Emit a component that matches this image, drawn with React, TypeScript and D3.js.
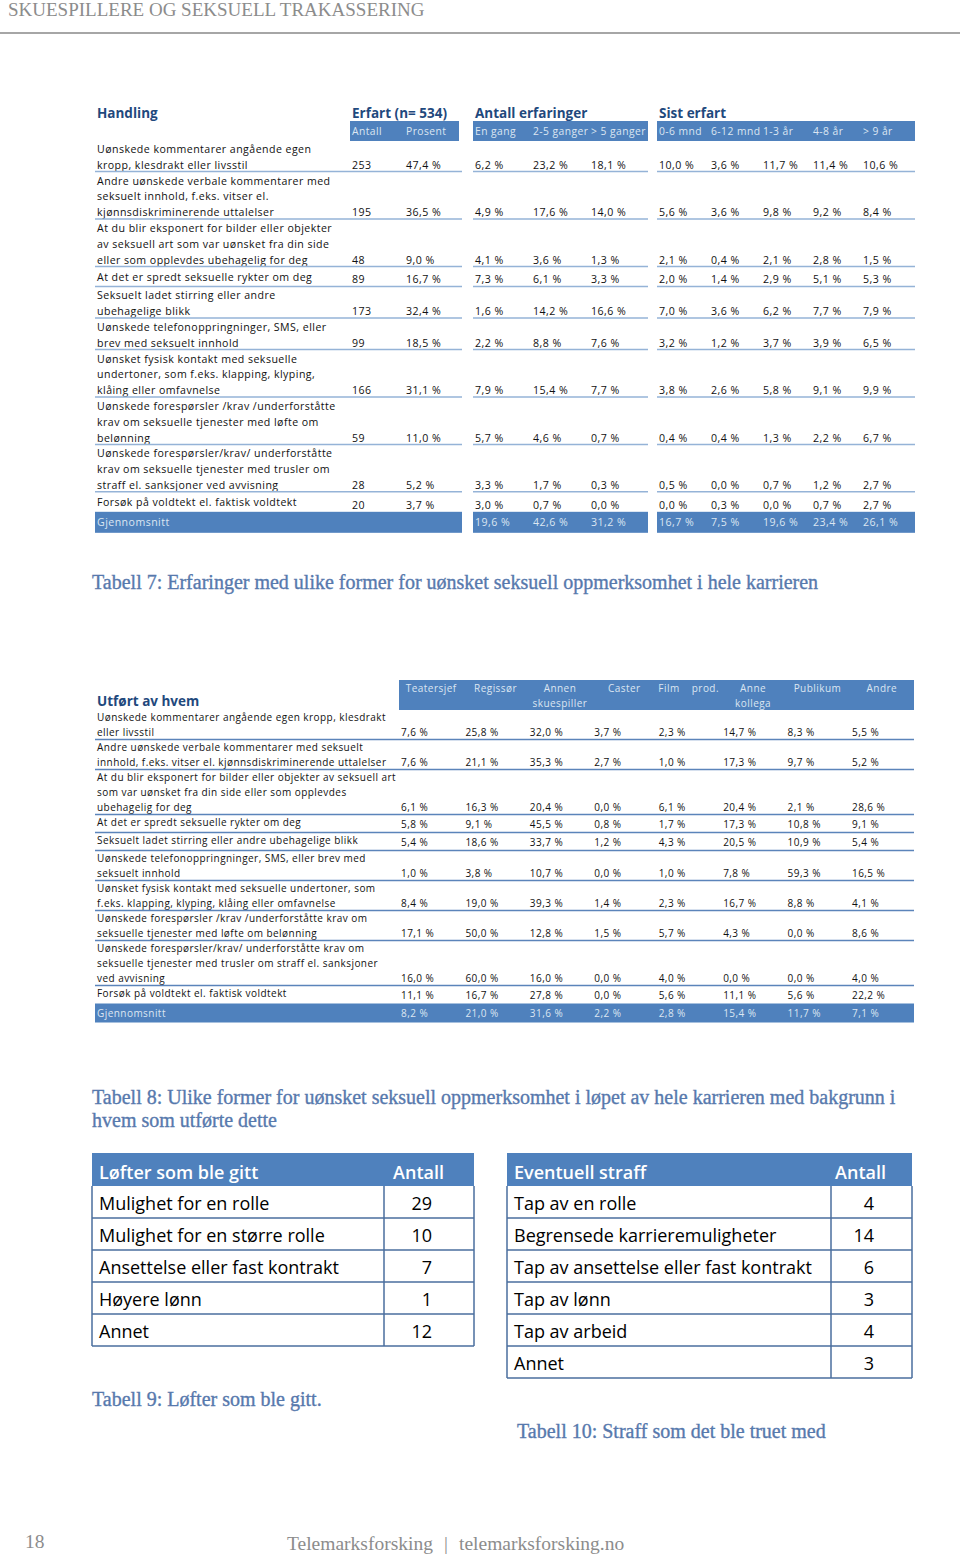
import React from "react";
import * as d3 from "d3";

// ---------- DATA ----------
const pageTitle = "SKUESPILLERE OG SEKSUELL TRAKASSERING";

const t7Rows: string[][] = [
  ["Uønskede kommentarer angående egen", "kropp, klesdrakt eller livsstil"],
  ["Andre uønskede verbale kommentarer med", "seksuelt innhold, f.eks. vitser el.", "kjønnsdiskriminerende uttalelser"],
  ["At du blir eksponert for bilder eller objekter", "av seksuell art som var uønsket fra din side", "eller som opplevdes ubehagelig for deg"],
  ["At det er spredt seksuelle rykter om deg"],
  ["Seksuelt ladet stirring eller andre", "ubehagelige blikk"],
  ["Uønskede telefonoppringninger, SMS, eller", "brev med seksuelt innhold"],
  ["Uønsket fysisk kontakt med seksuelle", "undertoner, som f.eks. klapping, klyping,", "klåing eller omfavnelse"],
  ["Uønskede forespørsler /krav /underforståtte", "krav om seksuelle tjenester med løfte om", "belønning"],
  ["Uønskede forespørsler/krav/ underforståtte", "krav om seksuelle tjenester med trusler om", "straff el. sanksjoner ved avvisning"],
  ["Forsøk på voldtekt el. faktisk voldtekt"],
];
const t7GroupTitles = ["Handling", "Erfart (n= 534)", "Antall erfaringer", "Sist erfart"];
const t7SubHeaders = ["Antall", "Prosent", "En gang", "2-5 ganger", "> 5 ganger", "0-6 mnd", "6-12 mnd", "1-3 år", "4-8 år", "> 9 år"];
const t7Antall = [253, 195, 48, 89, 173, 99, 166, 59, 28, 20];
const t7Prosent = [47.4, 36.5, 9.0, 16.7, 32.4, 18.5, 31.1, 11.0, 5.2, 3.7];
const t7EnGang = [6.2, 4.9, 4.1, 7.3, 1.6, 2.2, 7.9, 5.7, 3.3, 3.0];
const t7Ganger2til5 = [23.2, 17.6, 3.6, 6.1, 14.2, 8.8, 15.4, 4.6, 1.7, 0.7];
const t7Over5Ganger = [18.1, 14.0, 1.3, 3.3, 16.6, 7.6, 7.7, 0.7, 0.3, 0.0];
const t7Mnd0til6 = [10.0, 5.6, 2.1, 2.0, 7.0, 3.2, 3.8, 0.4, 0.5, 0.0];
const t7Mnd6til12 = [3.6, 3.6, 0.4, 1.4, 3.6, 1.2, 2.6, 0.4, 0.0, 0.3];
const t7Aar1til3 = [11.7, 9.8, 2.1, 2.9, 6.2, 3.7, 5.8, 1.3, 0.7, 0.0];
const t7Aar4til8 = [11.4, 9.2, 2.8, 5.1, 7.7, 3.9, 9.1, 2.2, 1.2, 0.7];
const t7Over9Aar = [10.6, 8.4, 1.5, 5.3, 7.9, 6.5, 9.9, 6.7, 2.7, 2.7];
const t7AvgLabel = "Gjennomsnitt";
const t7Avg = [19.6, 42.6, 31.2, 16.7, 7.5, 19.6, 23.4, 26.1];
const caption7 = "Tabell 7: Erfaringer med ulike former for uønsket seksuell oppmerksomhet i hele karrieren";

const t8Title = "Utført av hvem";
const t8Rows: string[][] = [
  ["Uønskede kommentarer angående egen kropp, klesdrakt", "eller livsstil"],
  ["Andre uønskede verbale kommentarer med seksuelt", "innhold, f.eks. vitser el. kjønnsdiskriminerende uttalelser"],
  ["At du blir eksponert for bilder eller objekter av seksuell art", "som var uønsket fra din side eller som opplevdes", "ubehagelig for deg"],
  ["At det er spredt seksuelle rykter om deg"],
  ["Seksuelt ladet stirring eller andre ubehagelige blikk"],
  ["Uønskede telefonoppringninger, SMS, eller brev med", "seksuelt innhold"],
  ["Uønsket fysisk kontakt med seksuelle undertoner, som", "f.eks. klapping, klyping, klåing eller omfavnelse"],
  ["Uønskede forespørsler /krav /underforståtte krav om", "seksuelle tjenester med løfte om belønning"],
  ["Uønskede forespørsler/krav/ underforståtte krav om", "seksuelle tjenester med trusler om straff el. sanksjoner", "ved avvisning"],
  ["Forsøk på voldtekt el. faktisk voldtekt"],
];
const t8Columns: string[][] = [["Teatersjef"], ["Regissør"], ["Annen", "skuespiller"], ["Caster"], ["Film    prod."], ["Anne", "kollega"], ["Publikum"], ["Andre"]];
const t8Teatersjef = [7.6, 7.6, 6.1, 5.8, 5.4, 1.0, 8.4, 17.1, 16.0, 11.1];
const t8Regissor = [25.8, 21.1, 16.3, 9.1, 18.6, 3.8, 19.0, 50.0, 60.0, 16.7];
const t8AnnenSkuespiller = [32.0, 35.3, 20.4, 45.5, 33.7, 10.7, 39.3, 12.8, 16.0, 27.8];
const t8Caster = [3.7, 2.7, 0.0, 0.8, 1.2, 0.0, 1.4, 1.5, 0.0, 0.0];
const t8FilmProd = [2.3, 1.0, 6.1, 1.7, 4.3, 1.0, 2.3, 5.7, 4.0, 5.6];
const t8AnneKollega = [14.7, 17.3, 20.4, 17.3, 20.5, 7.8, 16.7, 4.3, 0.0, 11.1];
const t8Publikum = [8.3, 9.7, 2.1, 10.8, 10.9, 59.3, 8.8, 0.0, 0.0, 5.6];
const t8Andre = [5.5, 5.2, 28.6, 9.1, 5.4, 16.5, 4.1, 8.6, 4.0, 22.2];
const t8Avg = [8.2, 21.0, 31.6, 2.2, 2.8, 15.4, 11.7, 7.1];
const caption8 = [
  "Tabell 8: Ulike former for uønsket seksuell oppmerksomhet i løpet av hele karrieren med bakgrunn i",
  "hvem som utførte dette",
];

const t9Header = ["Løfter som ble gitt", "Antall"];
const t9Labels = ["Mulighet for en rolle", "Mulighet for en større rolle", "Ansettelse eller fast kontrakt", "Høyere lønn", "Annet"];
const t9Values = [29, 10, 7, 1, 12];
const caption9 = "Tabell 9: Løfter som ble gitt.";

const t10Header = ["Eventuell straff", "Antall"];
const t10Labels = ["Tap av en rolle", "Begrensede karrieremuligheter", "Tap av ansettelse eller fast kontrakt", "Tap av lønn", "Tap av arbeid", "Annet"];
const t10Values = [4, 14, 6, 3, 4, 3];
const caption10 = "Tabell 10: Straff som det ble truet med";

const pageNumber = "18";
const footerParts = ["Telemarksforsking", "|", "telemarksforsking.no"];

// ---------- STYLE ----------
const W = 960;
const H = 1555;
const BLUE = "#4F81BD";
const NAVY = "#1F497D";
const CAPTION = "#5779AD";
const HEADTXT = "#DCE6F2";
const SANS = "'Open Sans', 'Liberation Sans', sans-serif";
const SERIF = "'Liberation Serif', 'DejaVu Serif', serif";
const body7 = { fontFamily: SANS, fontSize: 10.6, letterSpacing: 0.45, fill: "#111" };
const body8 = { fontFamily: SANS, fontSize: 10, letterSpacing: 0.45, fill: "#111" };

const nbLocale = d3.formatLocale({ decimal: ",", thousands: " ", grouping: [3], currency: ["", ""] });
const f1 = nbLocale.format(".1f");
const pct = (v: number) => `${f1(v)} %`;

// layout helper: cumulative row bottoms
function rowLayout(rows: string[][], top: number, lineH: number, singleH: number) {
  const heights = rows.map((r) => (r.length === 1 ? singleH : r.length * lineH));
  const bottoms = Array.from(d3.cumsum(heights)).map((c) => top + c);
  return bottoms.map((b, i) => ({ top: b - heights[i], bottom: b, n: rows[i].length }));
}

function Table7() {
  const cols = [t7Antall, t7Prosent, t7EnGang, t7Ganger2til5, t7Over5Ganger, t7Mnd0til6, t7Mnd6til12, t7Aar1til3, t7Aar4til8, t7Over9Aar];
  const colX = d3.scaleOrdinal<number, number>().domain(d3.range(10)).range([352, 406, 475, 533, 591, 659, 711, 763, 813, 863]);
  const segs = [
    [95, 462],
    [473, 648],
    [657, 915],
  ];
  const headBars = [
    [350, 459],
    [473, 648],
    [657, 915],
  ];
  const layout = rowLayout(t7Rows, 140, 15.8, 20);
  const last = layout[layout.length - 1].bottom;
  return (
    <g>
      <text x={97} y={118} fontFamily={SANS} fontWeight={700} fontSize={13.5} fill={NAVY}>{t7GroupTitles[0]}</text>
      {[352, 475, 659].map((x, i) => (
        <text key={i} x={x} y={118} fontFamily={SANS} fontWeight={700} fontSize={13.5} fill={NAVY}>{t7GroupTitles[i + 1]}</text>
      ))}
      {headBars.map(([a, b], i) => (
        <rect key={i} x={a} y={121} width={b - a} height={20} fill={BLUE} />
      ))}
      {t7SubHeaders.map((s, i) => (
        <text key={i} x={colX(i)} y={134.5} {...body7} fontSize={10.3} fill={HEADTXT}>{s}</text>
      ))}
      {layout.map((r, i) => {
        const single = r.n === 1;
        const labelBase = single ? r.bottom - 5.5 : r.bottom - 2.8;
        const valBase = single ? r.bottom - 3 : r.bottom - 2.8;
        return (
          <g key={i}>
            {t7Rows[i].map((line, j) => (
              <text key={j} x={97} y={labelBase - (r.n - 1 - j) * 15.8} {...body7}>{line}</text>
            ))}
            {cols.map((c, k) => (
              <text key={k} x={colX(k)} y={valBase} {...body7}>{k === 0 ? String(c[i]) : pct(c[i])}</text>
            ))}
            {i < layout.length - 1 &&
              segs.map(([a, b], k) => (
                <line key={k} x1={a} x2={b} y1={r.bottom} y2={r.bottom} stroke="#95B3D7" strokeWidth={1.5} />
              ))}
          </g>
        );
      })}
      {segs.map(([a, b], k) => (
        <rect key={k} x={a} y={last} width={b - a} height={21} fill={BLUE} />
      ))}
      <text x={97} y={last + 14} {...body7} fill={HEADTXT}>{t7AvgLabel}</text>
      {t7Avg.map((v, k) => (
        <text key={k} x={colX(k + 2)} y={last + 14} {...body7} fill={HEADTXT}>{pct(v)}</text>
      ))}
    </g>
  );
}

function Table8() {
  const cols = [t8Teatersjef, t8Regissor, t8AnnenSkuespiller, t8Caster, t8FilmProd, t8AnneKollega, t8Publikum, t8Andre];
  const x = d3.scaleLinear().domain([0, 7]).range([401, 852]);
  const band = d3.scaleBand<number>().domain(d3.range(8)).range([399, 914]);
  const layout = rowLayout(t8Rows, 709.5, 15, 18);
  const last = layout[layout.length - 1].bottom;
  return (
    <g>
      <rect x={399} y={680} width={515} height={30} fill={BLUE} />
      {t8Columns.map((c, i) =>
        c.map((s, j) => (
          <text key={`${i}-${j}`} x={band(i)! + band.bandwidth() / 2} y={692 + j * 15} textAnchor="middle" {...body8} fill={HEADTXT} style={{ whiteSpace: "pre" }}>{s}</text>
        ))
      )}
      <text x={97} y={705.5} fontFamily={SANS} fontWeight={700} fontSize={13.5} fill={NAVY}>{t8Title}</text>
      {layout.map((r, i) => {
        const single = r.n === 1;
        const labelBase = single ? r.bottom - 7 : r.bottom - 4;
        const valBase = single ? r.bottom - 4.5 : r.bottom - 4;
        return (
          <g key={i}>
            {t8Rows[i].map((line, j) => (
              <text key={j} x={97} y={labelBase - (r.n - 1 - j) * 15} {...body8}>{line}</text>
            ))}
            {cols.map((c, k) => (
              <text key={k} x={x(k)} y={valBase} {...body8}>{pct(c[i])}</text>
            ))}
            {i < layout.length - 1 && (
              <line x1={95} x2={914} y1={r.bottom} y2={r.bottom} stroke="#5B84BA" strokeWidth={1.5} />
            )}
          </g>
        );
      })}
      <rect x={95} y={last} width={819} height={19} fill={BLUE} />
      <text x={97} y={last + 13} {...body8} fill={HEADTXT}>{t7AvgLabel}</text>
      {t8Avg.map((v, k) => (
        <text key={k} x={x(k)} y={last + 13} {...body8} fill={HEADTXT}>{pct(v)}</text>
      ))}
    </g>
  );
}

function CountTable({ x0, x1, xDiv, numRight, header, labels, values }: { x0: number; x1: number; xDiv: number; numRight: number; header: string[]; labels: string[]; values: number[] }) {
  const top = 1153;
  const headH = 33;
  const rowH = 32;
  const y = d3.scaleLinear().domain([0, labels.length]).range([top + headH, top + headH + rowH * labels.length]);
  const fs = 18;
  return (
    <g>
      <rect x={x0} y={top} width={x1 - x0} height={headH} fill={BLUE} />
      <text x={x0 + 7} y={top + 25.5} fontFamily={SANS} fontWeight={600} fontSize={fs} fill="#fff">{header[0]}</text>
      <text x={numRight + 12} y={top + 25.5} textAnchor="end" fontFamily={SANS} fontWeight={600} fontSize={fs} fill="#fff">{header[1]}</text>
      {labels.map((l, i) => (
        <g key={i}>
          <text x={x0 + 7} y={y(i) + 24} fontFamily={SANS} fontSize={fs} fill="#000">{l}</text>
          <text x={numRight} y={y(i) + 24} textAnchor="end" fontFamily={SANS} fontSize={fs} fill="#000">{values[i]}</text>
          <line x1={x0} x2={x1} y1={y(i + 1)} y2={y(i + 1)} stroke="#4A6E9E" strokeWidth={1.5} />
        </g>
      ))}
      <line x1={x0} x2={x0} y1={top + headH} y2={y(labels.length)} stroke="#4A6E9E" strokeWidth={1.5} />
      <line x1={x1} x2={x1} y1={top + headH} y2={y(labels.length)} stroke="#4A6E9E" strokeWidth={1.5} />
      <line x1={xDiv} x2={xDiv} y1={top + headH} y2={y(labels.length)} stroke="#4A6E9E" strokeWidth={1.5} />
    </g>
  );
}

export default function App() {
  const capStyle = { fontFamily: SERIF, fontSize: 20, fill: CAPTION, stroke: CAPTION, strokeWidth: 0.35 };
  const footStyle = { fontFamily: SERIF, fontSize: 19.5, fill: "#8C8C8C" };
  return (
    <svg width={W} height={H} viewBox={`0 0 ${W} ${H}`} style={{ position: "absolute", left: 0, top: 0, background: "#fff" }}>
      <rect width={W} height={H} fill="#fff" />
      <text x={8} y={16} fontFamily={SERIF} fontSize={19} fill="#8C8C8C">{pageTitle}</text>
      <line x1={0} x2={W} y1={33} y2={33} stroke="#A6A6A6" strokeWidth={2} />

      <Table7 />
      <text x={92} y={589} {...capStyle}>{caption7}</text>

      <Table8 />
      {caption8.map((c, i) => (
        <text key={i} x={92} y={1104 + i * 23} {...capStyle}>{c}</text>
      ))}

      <CountTable x0={92} x1={474} xDiv={384} numRight={432} header={t9Header} labels={t9Labels} values={t9Values} />
      <CountTable x0={507} x1={912} xDiv={831} numRight={874} header={t10Header} labels={t10Labels} values={t10Values} />
      <text x={92} y={1406} {...capStyle}>{caption9}</text>
      <text x={517} y={1438} {...capStyle}>{caption10}</text>

      <text x={25} y={1548} {...footStyle}>{pageNumber}</text>
      <text x={287} y={1550} {...footStyle}>{footerParts[0]}</text>
      <text x={444} y={1550} {...footStyle}>{footerParts[1]}</text>
      <text x={459} y={1550} {...footStyle}>{footerParts[2]}</text>
    </svg>
  );
}
